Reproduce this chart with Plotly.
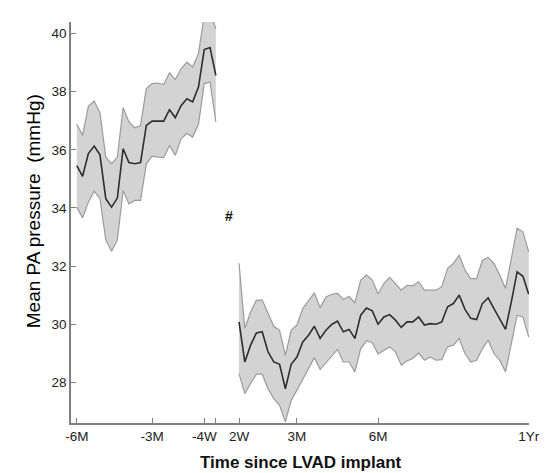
import plotly.graph_objects as go

# ---- data (weeks relative to LVAD implant) ----
pre_weeks = [-26, -25, -24, -23, -22, -21, -20, -19, -18, -17, -16, -15, -14,
             -13, -12, -11, -10, -9, -8, -7, -6, -5, -4, -3, -2]
pre_mean = [35.46, 35.09, 35.87, 36.13, 35.83, 34.32, 34.03, 34.34, 36.04, 35.56,
            35.52, 35.56, 36.84, 36.99, 36.99, 36.99, 37.38, 37.11, 37.52, 37.76,
            37.65, 38.16, 39.45, 39.52, 38.56]
pre_upper = [36.88, 36.50, 37.50, 37.68, 37.27, 35.75, 35.52, 35.75, 37.45, 36.96,
             36.76, 36.84, 38.11, 38.28, 38.30, 38.25, 38.65, 38.42, 38.79, 39.02,
             38.85, 39.31, 40.63, 40.75, 40.17]
pre_lower = [34.03, 33.66, 34.20, 34.58, 34.32, 32.90, 32.51, 32.90, 34.60, 34.14,
             34.26, 34.26, 35.52, 35.78, 35.75, 35.73, 36.15, 35.81, 36.38, 36.56,
             36.44, 36.88, 38.28, 38.33, 36.96]

post_weeks = [2, 3, 4, 5, 6, 7, 8, 9, 10, 11, 12, 13, 14, 15, 16, 17, 18, 19, 20,
              21, 22, 23, 24, 25, 26, 27, 28, 29, 30, 31, 32, 33, 34, 35, 36, 37,
              38, 39, 40, 41, 42, 43, 44, 45, 46, 47, 48, 49, 50, 51, 52]
post_mean = [30.08, 28.70, 29.28, 29.70, 29.74, 29.05, 28.70, 28.62, 27.78, 28.62,
             28.87, 29.39, 29.62, 29.93, 29.51, 29.79, 29.99, 30.11, 29.74, 29.82,
             29.51, 30.31, 30.56, 30.46, 30.00, 30.25, 30.33, 30.14, 29.89, 30.08,
             30.08, 30.25, 29.97, 30.02, 30.00, 30.08, 30.60, 30.71, 31.00, 30.51,
             30.20, 30.16, 30.71, 30.91, 30.54, 30.16, 29.82, 30.77, 31.80, 31.65,
             31.03]
post_upper = [32.10, 29.85, 30.42, 30.83, 30.83, 30.37, 29.93, 29.79, 28.93, 29.79,
              29.97, 30.54, 30.83, 31.08, 30.57, 30.94, 31.03, 31.06, 30.85, 30.96,
              30.73, 31.52, 31.69, 31.52, 31.04, 31.40, 31.61, 31.40, 31.17, 31.34,
              31.32, 31.46, 31.17, 31.17, 31.17, 31.29, 31.92, 32.09, 32.38, 31.86,
              31.57, 31.57, 32.20, 32.30, 32.09, 31.69, 31.23, 32.26, 33.30, 33.18,
              32.49]
post_lower = [28.30, 27.61, 27.96, 28.28, 28.28, 27.78, 27.44, 27.21, 26.64, 27.38,
              27.73, 28.09, 28.47, 28.85, 28.44, 28.67, 28.87, 29.13, 28.70, 28.70,
              28.36, 29.16, 29.43, 29.36, 28.98, 29.10, 29.22, 29.05, 28.59, 28.74,
              28.82, 29.01, 28.76, 28.87, 28.76, 28.78, 29.22, 29.28, 29.51, 28.99,
              28.70, 28.76, 29.16, 29.45, 28.99, 28.76, 28.36, 29.33, 30.31, 30.25,
              29.56]

x_tickvals = [-26, -13, -4, -2, 2, 12, 26, 52]
x_ticktext = ["-6M", "-3M", "-4W", "", "2W", "3M", "6M", "1Yr"]
y_tickvals = [28, 30, 32, 34, 36, 38, 40]

FILL = "#d3d3d3"
EDGE = "#9b9b9b"
MEAN = "#2e2e2e"
AXIS = "#7f7f7f"
FONT = "Liberation Sans, Arial, sans-serif"

fig = go.Figure()
for xs, lo, hi, mn in [(pre_weeks, pre_lower, pre_upper, pre_mean),
                       (post_weeks, post_lower, post_upper, post_mean)]:
    fig.add_trace(go.Scatter(x=xs, y=lo, mode="lines",
                             line=dict(color=EDGE, width=1.2),
                             hoverinfo="skip", showlegend=False))
    fig.add_trace(go.Scatter(x=xs, y=hi, mode="lines", fill="tonexty",
                             fillcolor=FILL, line=dict(color=EDGE, width=1.2),
                             hoverinfo="skip", showlegend=False))
    fig.add_trace(go.Scatter(x=xs, y=mn, mode="lines",
                             line=dict(color=MEAN, width=1.6),
                             showlegend=False))

fig.update_layout(
    width=543, height=465,
    margin=dict(l=63, r=11, t=14, b=50),
    paper_bgcolor="white", plot_bgcolor="white",
    font=dict(family=FONT, color="#222222", size=13),
    xaxis=dict(range=[-27, 52.05], tickvals=x_tickvals, ticktext=x_ticktext,
               showline=True, linecolor=AXIS, linewidth=1.6,
               ticks="inside", ticklen=5, tickwidth=1.2, tickcolor=AXIS,
               showgrid=False, zeroline=False,
               tickfont=dict(size=13.5, family=FONT, color="#222222")),
    yaxis=dict(range=[26.6, 40.4], tickvals=y_tickvals,
               showline=True, linecolor=AXIS, linewidth=1.6,
               ticks="inside", ticklen=5, tickwidth=1.2, tickcolor=AXIS,
               showgrid=False, zeroline=False,
               tickfont=dict(size=13.5, family=FONT, color="#222222")),
    annotations=[
        dict(text="Mean PA pressure  (mmHg)", textangle=-90,
             xref="paper", yref="paper", x=-0.083, y=0.528,
             xanchor="center", yanchor="middle", showarrow=False,
             font=dict(size=19, family=FONT, color="#000000")),
        dict(text="<b>Time since LVAD implant</b>",
             xref="paper", yref="paper", x=0.502, y=-0.098,
             xanchor="center", yanchor="middle", showarrow=False,
             font=dict(size=17, family=FONT, color="#111111")),
        dict(text="<b>#</b>", xref="x", yref="paper", x=0.3, y=0.515,
             xanchor="center", yanchor="middle", showarrow=False,
             font=dict(size=14, family=FONT, color="#111111")),
    ],
)

fig.write_html("out.html")
